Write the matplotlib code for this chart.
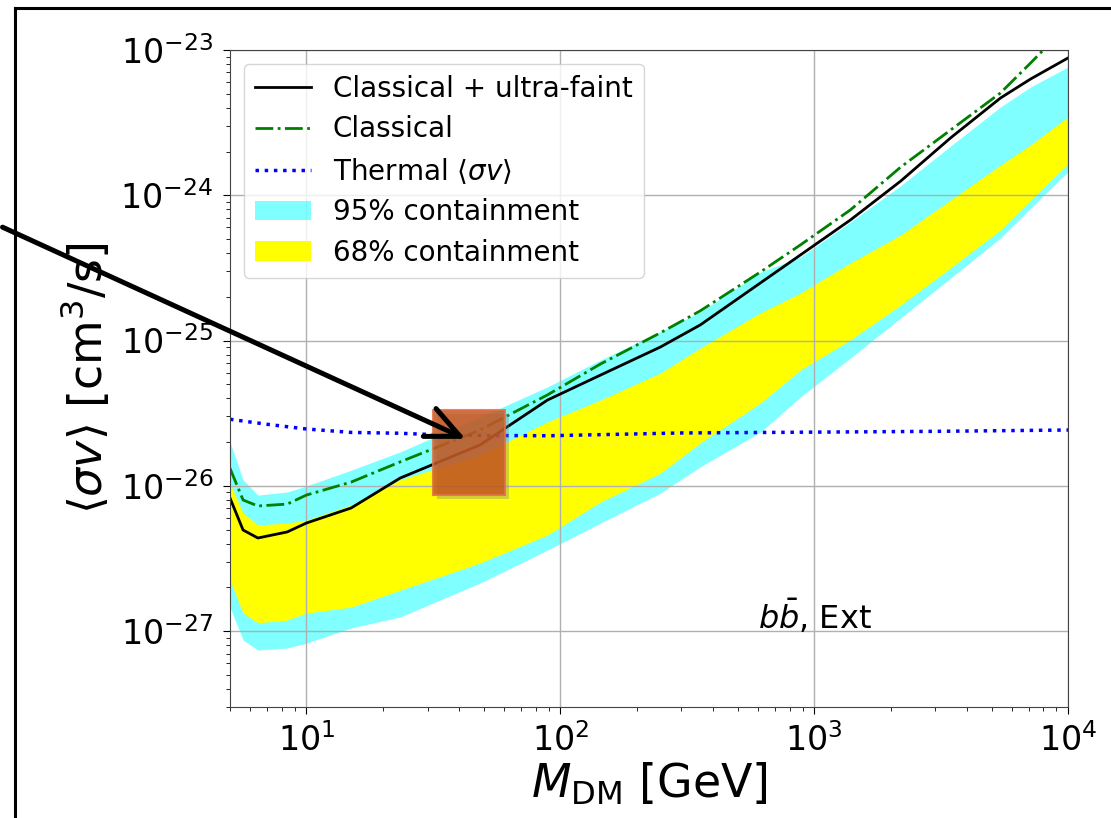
from matplotlib import pyplot as plt
from matplotlib.patches import Rectangle, FancyArrowPatch
from matplotlib.lines import Line2D
import numpy as np

## Data

mass = [5.0, 5.63, 6.44, 8.4, 10, 15, 23.4, 48.3, 89, 144, 248, 356, 614, 883,
        1390, 2190, 3445, 5420, 7120, 10000]

combined = [8.24e-27, 4.96e-27, 4.37e-27, 4.81e-27, 5.54e-27, 7.03e-27, 1.13e-26,
            1.91e-26, 3.89e-26, 5.78e-26, 9.02e-26, 1.28e-25, 2.49e-25, 3.88e-25,
            6.76e-25, 1.25e-24, 2.48e-24, 4.67e-24, 6.31e-24, 8.81e-24]

classical = [1.32e-26, 7.98e-27, 7.26e-27, 7.48e-27, 8.63e-27, 1.06e-26, 1.46e-26,
             2.42e-26, 4.22e-26, 6.89e-26, 1.13e-25, 1.60e-25, 2.96e-25, 4.55e-25,
             7.93e-25, 1.56e-24, 2.81e-24, 5.06e-24, 8.13e-24, 1.49e-23]

c95_hi = [2.00e-26, 1.10e-26, 8.63e-27, 9.06e-27, 9.96e-27, 1.28e-26, 1.71e-26,
          2.97e-26, 4.79e-26, 7.34e-26, 1.15e-25, 1.57e-25, 2.95e-25, 3.76e-25,
          6.55e-25, 1.16e-24, 2.18e-24, 4.05e-24, 5.56e-24, 7.64e-24]

c95_lo = [1.46e-27, 8.67e-28, 7.40e-28, 7.64e-28, 8.26e-28, 1.05e-27, 1.25e-27,
          2.14e-27, 3.61e-27, 5.54e-27, 8.91e-27, 1.35e-26, 2.34e-26, 4.08e-26,
          7.58e-26, 1.43e-25, 2.69e-25, 5.08e-25, 8.17e-25, 1.45e-24]

c68_hi = [1.04e-26, 6.49e-27, 5.37e-27, 5.54e-27, 5.81e-27, 7.37e-27, 1.10e-26,
          1.63e-26, 2.75e-26, 3.89e-26, 5.97e-26, 8.87e-26, 1.55e-25, 2.12e-25,
          3.42e-25, 5.32e-25, 9.27e-25, 1.61e-24, 2.22e-24, 3.46e-24]

c68_lo = [2.24e-27, 1.33e-27, 1.14e-27, 1.19e-27, 1.33e-27, 1.46e-27, 1.91e-27,
          2.94e-27, 4.58e-27, 7.73e-27, 1.22e-26, 1.97e-26, 3.71e-26, 6.26e-26,
          1.01e-25, 1.75e-25, 3.16e-25, 5.77e-25, 9.27e-25, 1.64e-24]

thermal_mass = [5, 7, 10, 15, 23, 34, 48, 90, 300, 1000, 3000, 10000]
thermal = [2.87e-26, 2.65e-26, 2.46e-26, 2.33e-26, 2.30e-26, 2.24e-26, 2.22e-26,
           2.21e-26, 2.31e-26, 2.34e-26, 2.37e-26, 2.42e-26]

## Figure

fig = plt.figure(figsize=(11.11, 8.18), dpi=100)
ax = fig.add_axes([0.207, 0.1357, 0.7543, 0.8032])

ax.fill_between(mass, c95_lo, c95_hi, color='cyan', alpha=0.5, lw=0, label='95% containment')
ax.fill_between(mass, c68_lo, c68_hi, color='yellow', lw=0, label='68% containment')
ax.plot(mass, combined, 'k-', lw=2, label='Classical + ultra-faint')
ax.plot(mass, classical, 'g-.', lw=2, label='Classical')
ax.plot(thermal_mass, thermal, 'b:', lw=2.5, label=r'Thermal $\langle\sigma v\rangle$')

ax.set_xscale('log')
ax.set_yscale('log')
ax.set_xlim(5, 1e4)
ax.set_ylim(3e-28, 1e-23)
ax.grid(True, which='major', color='#b0b0b0', lw=1)
ax.tick_params(labelsize=24, length=5, pad=7)
ax.tick_params(which='minor', length=3)
for s in ax.spines.values():
	s.set_color('#444444')

ax.set_xlabel(r'$M_{\rm DM}$ [GeV]', fontsize=33, labelpad=2)
ax.set_ylabel(r'$\langle\sigma v\rangle$ [cm$^3$/s]', fontsize=33, labelpad=6)
ax.text(0.698, 0.137, r'$b\bar{b}$, Ext', transform=ax.transAxes,
	ha='center', va='center', fontsize=23)

h, l = ax.get_legend_handles_labels()
order = [2, 3, 4, 0, 1]
ax.legend([h[i] for i in order], [l[i] for i in order], loc='upper left', fontsize=20,
	labelspacing=0.45)

## Slide decorations: frame, highlight box and arrow

top = 1 - 8/818
left = 15/1111
fig.add_artist(Line2D([left, 1.0], [top, top], transform=fig.transFigure, color='black', lw=2.2))
fig.add_artist(Line2D([left, left], [0.0, top], transform=fig.transFigure, color='black', lw=2.2))
fig.add_artist(Rectangle((437/1111, 1 - 499/818), 72/1111, 85/818, transform=fig.transFigure,
	fc='gray', ec='none', alpha=0.35))
fig.add_artist(Rectangle((433/1111, 1 - 495/818), 72/1111, 85/818, transform=fig.transFigure,
	fc='#c4561f', ec='#e0704a', lw=1.5, alpha=0.85))
fig.add_artist(FancyArrowPatch((0, 1 - 226/818), (468/1111, 1 - 440/818), transform=fig.transFigure,
	arrowstyle='->,head_length=1.2,head_width=0.55', mutation_scale=20, lw=3.6, color='black'))

plt.savefig('out.png', dpi=100)
